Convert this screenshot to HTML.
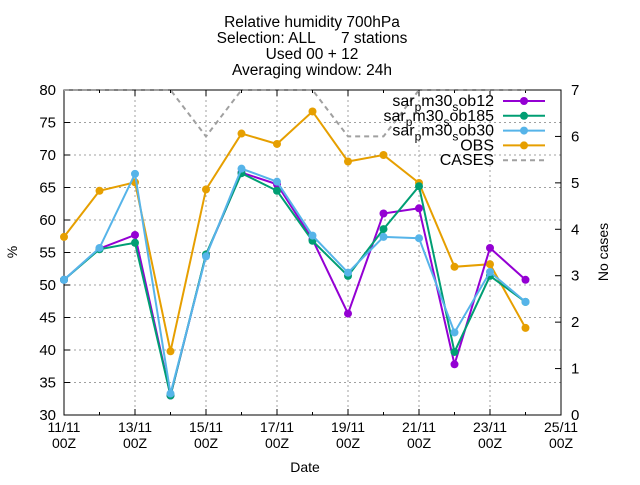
<!DOCTYPE html>
<html><head><meta charset="utf-8"><style>
body{margin:0;background:#fff}
svg text{font-family:"Liberation Sans",sans-serif;fill:#000}
</style></head><body>
<svg id="c" width="640" height="480" viewBox="0 0 640 480">
<g font-size="15.5" text-anchor="middle">
<text x="312" y="27">Relative humidity 700hPa</text>
<text x="312" y="43" xml:space="preserve">Selection: ALL      7 stations</text>
<text x="312" y="59">Used 00 + 12</text>
<text x="312" y="75">Averaging window: 24h</text>
</g>
<g id="grid"></g>
<g id="axes"></g>
<g id="series"></g>
<g id="legend"></g>
<text x="305" y="472" font-size="14" text-anchor="middle">Date</text>
<text transform="translate(17,252) rotate(-90)" font-size="14" text-anchor="middle">%</text>
<text transform="translate(608,252) rotate(-90)" font-size="14" text-anchor="middle">No cases</text>
</svg>
<script>
const days=[0,1,2,3,4,5,6,7,8,9,10,11,12,13];
const ob12=[50.8,55.6,57.7,33.0,54.6,67.3,65.5,57.0,45.6,61.0,61.8,37.8,55.7,50.8];
const ob185=[50.8,55.5,56.5,33.0,54.7,67.2,64.5,56.8,51.4,58.6,65.2,39.7,51.4,47.4];
const ob30=[50.8,55.7,67.1,33.3,54.4,67.9,65.9,57.6,51.9,57.4,57.2,42.7,52.0,47.4];
const obs=[57.4,64.5,65.8,39.8,64.7,73.3,71.7,76.7,69.0,70.0,65.7,52.8,53.2,43.4];
const cases=[7,7,7,7,6,7,7,7,6,6,7,7,7,7];
const yTicks=[30,35,40,45,50,55,60,65,70,75,80];
const y2Ticks=[0,1,2,3,4,5,6,7];
const xTickLabels=["11/11","13/11","15/11","17/11","19/11","21/11","23/11","25/11"];
const L=64,R=561,T=90,B=415;
const X=d=>L+(R-L)*d/14;
const Y=v=>B-(B-T)*(v-30)/50;
const Y2=v=>B-(B-T)*v/7;
const NS="http://www.w3.org/2000/svg";
function mk(t,a,p){const e=document.createElementNS(NS,t);for(const k in a)e.setAttribute(k,a[k]);p.appendChild(e);return e;}
const grid=document.getElementById('grid'),axes=document.getElementById('axes'),ser=document.getElementById('series'),leg=document.getElementById('legend');
yTicks.forEach(v=>{const y=Y(v);
 if(v>30&&v<80){const g=mk('line',{x1:L,x2:R,y1:y,y2:y,stroke:'#a0a0a0','stroke-dasharray':'2,3'},grid);
 
 }
 mk('line',{x1:L,x2:L+6,y1:y,y2:y,stroke:'#000'},axes);
 const t=mk('text',{x:L-8,y:y+5,'font-size':15,'text-anchor':'end'},axes);t.textContent=v;
 
 });
y2Ticks.forEach(v=>{const y=Y2(v);
 mk('line',{x1:R-6,x2:R,y1:y,y2:y,stroke:'#000'},axes);
 const t=mk('text',{x:R+10,y:y+5,'font-size':15},axes);t.textContent=v;
 
 });
for(let d=0;d<=14;d++){const x=X(d);
 const major=d%2==0;
 if(major&&d>0&&d<14){const g=mk('line',{x1:x,x2:x,y1:T,y2:B,stroke:'#a0a0a0','stroke-dasharray':'2,3'},grid);
 
 }
 mk('line',{x1:x,x2:x,y1:B,y2:B-(major?6:3),stroke:'#000'},axes);
 mk('line',{x1:x,x2:x,y1:T,y2:T+(major?6:3),stroke:'#000'},axes);
 if(major){const t=mk('text',{x:x,y:432,'font-size':14,'text-anchor':'middle'},axes);t.textContent=xTickLabels[d/2];
 
 
 const t2=mk('text',{x:x,y:448,'font-size':14,'text-anchor':'middle'},axes);t2.textContent='00Z';
 
 }
}
const fr=mk('rect',{x:L,y:T,width:R-L,height:B-T,fill:'none',stroke:'#000'},axes);


const cl=mk('polyline',{points:days.map((d,i)=>X(d)+','+Y2(cases[i])).join(' '),fill:'none',stroke:'#a0a0a0','stroke-width':2,'stroke-dasharray':'5,4'},ser);


function series(vals,col,name){
 const g=mk('g',{},ser);
 
 
 mk('polyline',{points:days.map((d,i)=>X(d)+','+Y(vals[i])).join(' '),fill:'none',stroke:col,'stroke-width':2},g);
 days.forEach((d,i)=>{const c=mk('circle',{cx:X(d),cy:Y(vals[i]),r:4,fill:col},g);
 
 });
}
series(obs,'#e69f00','obs');
series(ob12,'#9400d3','ob12');
series(ob185,'#009e73','ob185');
series(ob30,'#56b4e9','ob30');
const legItems=[['sar','m30','ob12','#9400d3'],['sar','m30','ob185','#009e73'],['sar','m30','ob30','#56b4e9'],['OBS','','','#e69f00'],['CASES','','','#a0a0a0']];
legItems.forEach((it,i)=>{const y=101+i*14.8;
 const g=mk('g',{},leg);
 
 
 const t=mk('text',{x:494,y:y+5,'font-size':16,'text-anchor':'end'},g);
 if(it[1]){t.innerHTML=it[0]+'<tspan dy="5" font-size="12">p</tspan><tspan dy="-5">'+it[1]+'</tspan><tspan dy="5" font-size="12">s</tspan><tspan dy="-5">'+it[2]+'</tspan>';}
 else t.textContent=it[0];
 if(i<4){mk('line',{x1:503,x2:545,y1:y,y2:y,stroke:it[3],'stroke-width':2},g);mk('circle',{cx:524,cy:y,r:4,fill:it[3]},g);}
 else mk('line',{x1:503,x2:545,y1:y,y2:y,stroke:it[3],'stroke-width':2,'stroke-dasharray':'5,4'},g);
});
</script>
</body></html>
